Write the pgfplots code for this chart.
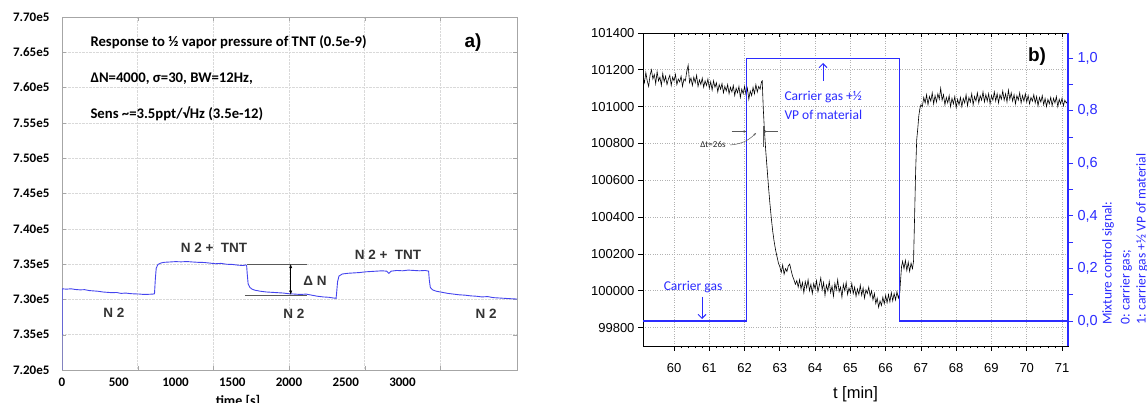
\documentclass[border=0pt]{standalone}
\usepackage{fontspec}
\setmainfont{Carlito}
\newfontfamily\arial{Liberation Sans}
\usepackage{pgfplots}
\pgfplotsset{compat=1.18}
\usetikzlibrary{arrows.meta}
\definecolor{lblue}{HTML}{4444EE}
\definecolor{bblue}{HTML}{2B2BFF}
\definecolor{lbl}{HTML}{333333}
\newcommand{\fs}[1]{\fontsize{#1}{#1}\selectfont}

\begin{document}
\begin{tikzpicture}[x=1pt,y=1pt]
\path[use as bounding box] (0pt,0pt) rectangle (1147pt,403pt);

% ---------- panel a ----------
\begin{axis}[
  at={(62pt,33pt)}, anchor=south west, scale only axis,
  width=455pt, height=353pt,
  xmin=0, xmax=4009, ymin=720000, ymax=770000,
  xtick={666.7,1333.3,2000,2666.7,3333.3}, xticklabels={},
  extra x ticks={0,500,1000,1500,2000,2500,3000},
  extra x tick style={major tick length=0pt, grid=none},
  ytick={720000,725000,...,770000},
  yticklabels={7.20e5,7.35e5,7.30e5,7.35e5,7.40e5,7.45e5,7.50e5,7.55e5,7.60e5,7.65e5,7.70e5},
  tick align=inside, major tick length=4pt,
  grid=major, grid style={gray!30, densely dotted},
  axis line style={gray!70}, tick style={gray!70},
  ticklabel style={font=\bfseries\fs{13}},
  yticklabel style={xshift=-9pt},
  xticklabel style={yshift=-4pt},
  scaled x ticks=false, scaled y ticks=false,
  /pgf/number format/fixed, /pgf/number format/precision=0,
  /pgf/number format/assume math mode=true,
  /pgf/number format/set thousands separator={},
]
\addplot[lblue, line width=0.9pt] coordinates {
(0,720000)(1,731500)(40,731450)(80,731500)(120,731400)(160,731350)(200,731380)
(240,731250)(280,731200)(320,731150)(360,731050)(400,731000)(440,730950)(480,730980)
(520,730850)(560,730900)(600,730820)(640,730780)(680,730760)(720,730700)(760,730720)
(800,730750)(815,730800)
(822,732800)(830,734400)(845,734950)(870,735150)(900,735250)(950,735300)(1000,735350)
(1050,735320)(1100,735360)(1150,735300)(1200,735250)(1250,735230)(1300,735150)
(1350,735050)(1400,735100)(1450,734980)(1500,734950)(1550,734850)(1600,734800)
(1620,734900)(1627,734750)
(1632,733600)(1640,732200)(1655,731700)(1675,731450)(1700,731300)(1750,731150)
(1800,731050)(1850,731000)(1900,730950)(1950,730900)(2000,730800)(2050,730750)
(2100,730700)(2150,730750)(2200,730600)(2250,730450)(2300,730350)(2350,730300)
(2390,730200)(2415,730150)
(2420,731000)(2428,732500)(2440,733300)(2470,733600)(2520,733700)(2570,733750)
(2620,733800)(2670,733900)(2720,733950)(2770,734000)(2820,734050)(2860,734000)
(2880,733700)(2900,734000)(2950,734100)(3000,734050)(3050,734150)(3100,734100)
(3150,734050)(3200,734100)(3230,734000)
(3236,732800)(3245,731700)(3265,731350)(3300,731150)(3350,731000)(3400,730850)
(3450,730750)(3500,730650)(3550,730600)(3600,730500)(3650,730450)(3700,730350)
(3750,730400)(3800,730250)(3850,730200)(3900,730150)(3950,730100)(4009,730050)
};
\draw[gray!70!black, thin] (axis cs:1630,735000) -- (axis cs:2159,735000);
\draw[gray!70!black, thin] (axis cs:1612,730665) -- (axis cs:2159,730665);
\draw[black, thin, {Latex[length=4pt,width=3pt]}-{Latex[length=4pt,width=3pt]}]
  (axis cs:2015,735000) -- (axis cs:2015,730665);
\node[font=\arial\bfseries\fs{13.5}, text=lbl] at (axis cs:2229,732590) {Δ N};
\node[font=\arial\bfseries\fs{13.5}, text=lbl] at (axis cs:458,728160) {N 2};
\node[font=\arial\bfseries\fs{13.5}, text=lbl] at (axis cs:1339,737360) {N 2 +\ \ TNT};
\node[font=\arial\bfseries\fs{13.5}, text=lbl] at (axis cs:2044,728020) {N 2};
\node[font=\arial\bfseries\fs{13.5}, text=lbl] at (axis cs:2872,736370) {N 2 +\ \ TNT};
\node[font=\arial\bfseries\fs{13.5}, text=lbl] at (axis cs:3736,728020) {N 2};
\end{axis}

\node[anchor=west, font=\bfseries\fs{14.7}] at (87pt,361pt) {Response to ½ vapor pressure of TNT (0.5e-9)};
\node[anchor=west, font=\bfseries\fs{14.7}] at (87pt,324pt) {ΔN=4000, σ=30, BW=12Hz,};
\node[anchor=west, font=\bfseries\fs{14.7}] at (87pt,289pt) {Sens \textasciitilde=3.5ppt/√Hz (3.5e-12)};
\node[font=\arial\bfseries\fs{19}] at (473pt,360pt) {a)};
\node[font=\bfseries\fs{14}] at (238pt,2pt) {time [s]};

% ---------- panel b ----------
\begin{axis}[
  at={(643pt,57pt)}, anchor=south west, scale only axis,
  width=425pt, height=313pt,
  xmin=59.12, xmax=71.17, ymin=99700, ymax=101400,
  xtick={60,61,...,71}, minor x tick num=4,
  ytick={99800,100000,...,101400}, minor y tick num=1,
  xtick pos=bottom, ytick pos=left,
  tick align=outside, major tick length=5pt, minor tick length=2.5pt,
  grid=major, grid style={gray!60, dotted, line width=0.7pt},
  axis line style={black, line width=0.8pt},
  tick style={black, line width=0.8pt},
  ticklabel style={font=\arial\fs{13}},
  xticklabel style={yshift=-9pt},
  scaled x ticks=false, scaled y ticks=false,
  /pgf/number format/fixed, /pgf/number format/precision=0,
  /pgf/number format/assume math mode=true,
  /pgf/number format/set thousands separator={},
  xlabel={t [min]}, xlabel style={font=\arial\fs{16.5}, yshift=-7pt},
]
\addplot[black, line width=0.6pt] coordinates {
(59.12,101160)(59.16,101130)(59.20,101185)(59.24,101140)(59.28,101110)(59.32,101170)
(59.36,101200)(59.40,101150)(59.44,101175)(59.48,101125)(59.52,101190)(59.56,101140)
(59.60,101160)(59.64,101115)(59.68,101180)(59.72,101135)(59.76,101165)(59.80,101120)
(59.84,101150)(59.88,101170)(59.92,101115)(59.96,101160)(60.00,101140)(60.04,101175)
(60.08,101120)(60.12,101150)(60.16,101135)(60.20,101165)(60.24,101110)(60.28,101150)
(60.32,101140)(60.36,101190)(60.40,101225)(60.44,101130)(60.48,101155)(60.52,101115)
(60.56,101160)(60.60,101130)(60.64,101170)(60.68,101110)(60.72,101145)(60.76,101120)
(60.80,101155)(60.84,101105)(60.88,101140)(60.92,101115)(60.96,101150)(61.00,101100)
(61.04,101135)(61.08,101090)(61.12,101140)(61.16,101105)(61.20,101130)(61.24,101080)
(61.28,101120)(61.32,101095)(61.36,101125)(61.40,101075)(61.44,101110)(61.48,101085)
(61.52,101120)(61.56,101070)(61.60,101105)(61.64,101080)(61.68,101115)(61.72,101060)
(61.76,101100)(61.80,101075)(61.84,101110)(61.88,101050)(61.92,101095)(61.96,101070)
(62.00,101110)(62.04,101065)(62.08,101100)(62.12,101040)(62.16,101085)(62.20,101060)
(62.24,101105)(62.28,101070)(62.32,101120)(62.36,101080)(62.40,101110)(62.44,101095)
(62.48,101135)(62.50,101140)
(62.53,100990)(62.56,100880)(62.60,100760)(62.64,100660)(62.68,100560)(62.72,100470)
(62.76,100390)(62.80,100320)(62.84,100265)(62.88,100220)(62.92,100185)(62.96,100150)
(63.00,100130)(63.04,100100)(63.08,100140)(63.12,100090)(63.16,100120)(63.20,100105)
(63.24,100135)(63.28,100145)(63.32,100110)(63.36,100080)(63.40,100060)(63.44,100035)
(63.48,100055)
(63.52,100020)(63.56,100060)(63.60,100010)(63.64,100045)(63.68,99990)(63.72,100050)
(63.76,100015)(63.80,100060)(63.84,100000)(63.88,100035)(63.92,99985)(63.96,100040)
(64.00,100010)(64.04,100055)(64.08,99995)(64.12,100030)(64.16,100070)(64.20,100005)
(64.24,100045)(64.28,99975)(64.32,100030)(64.36,100000)(64.40,100050)(64.44,99990)
(64.48,100025)(64.52,99970)(64.56,100040)(64.60,100005)(64.64,100060)(64.68,99995)
(64.72,100020)(64.76,99965)(64.80,100035)(64.84,100000)(64.88,100045)(64.92,99980)
(64.96,100015)(65.00,99990)(65.04,100040)(65.08,99985)(65.12,100020)(65.16,99970)
(65.20,100010)(65.24,99980)(65.28,100030)(65.32,99975)(65.36,100015)(65.40,99960)
(65.44,100005)(65.48,99985)(65.52,100020)(65.56,99970)(65.60,100000)(65.64,99950)
(65.68,99985)(65.72,99930)(65.76,99960)(65.80,99910)(65.84,99945)(65.88,99920)
(65.92,99965)(65.96,99930)(66.00,99975)(66.04,99935)(66.08,99980)(66.12,99940)
(66.16,99990)(66.20,99945)(66.24,99985)(66.28,99950)(66.32,99995)(66.36,99960)
(66.40,99990)
(66.42,100050)(66.45,100130)(66.48,100160)(66.52,100120)(66.56,100165)(66.60,100110)
(66.64,100155)(66.68,100105)(66.72,100150)(66.76,100120)(66.79,100160)
(66.82,100400)(66.85,100650)(66.88,100820)(66.91,100880)(66.94,100950)(66.97,100990)
(67.00,101010)
(67.04,101000)(67.08,101050)(67.12,101020)(67.16,101065)(67.20,101010)(67.24,101055)
(67.28,101030)(67.32,101075)(67.36,101015)(67.40,101060)(67.44,101025)(67.48,101070)
(67.52,101040)(67.56,101100)(67.60,101035)(67.64,101065)(67.68,101010)(67.72,101050)
(67.76,101020)(67.80,101060)(67.84,101000)(67.88,101045)(67.92,101015)(67.96,101055)
(68.00,100995)(68.04,101040)(68.08,101010)(68.12,101050)(68.16,101000)(68.20,101045)
(68.24,101020)(68.28,101065)(68.32,101005)(68.36,101050)(68.40,101025)(68.44,101070)
(68.48,101010)(68.52,101055)(68.56,101030)(68.60,101075)(68.64,101020)(68.68,101060)
(68.72,101035)(68.76,101080)(68.80,101025)(68.84,101065)(68.88,101030)(68.92,101070)
(68.96,101015)(69.00,101060)(69.04,101035)(69.08,101080)(69.12,101030)(69.16,101070)
(69.20,101020)(69.24,101065)(69.28,101040)(69.32,101085)(69.36,101035)(69.40,101070)
(69.44,101025)(69.48,101090)(69.52,101040)(69.56,101075)(69.60,101030)(69.64,101065)
(69.68,101015)(69.72,101060)(69.76,101035)(69.80,101075)(69.84,101020)(69.88,101060)
(69.92,101030)(69.96,101070)(70.00,101025)(70.04,101060)(70.08,101015)(70.12,101050)
(70.16,101030)(70.20,101065)(70.24,101020)(70.28,101055)(70.32,101005)(70.36,101050)
(70.40,101025)(70.44,101060)(70.48,101010)(70.52,101045)(70.56,101000)(70.60,101040)
(70.64,101015)(70.68,101050)(70.72,101005)(70.76,101045)(70.80,101020)(70.84,101055)
(70.88,101000)(70.92,101040)(70.96,101015)(71.00,101045)(71.04,101005)(71.08,101035)
(71.12,101020)(71.16,101030)
};
\end{axis}

% top ticks of panel b
\begin{axis}[
  at={(643pt,57pt)}, anchor=south west, scale only axis,
  width=425pt, height=313pt,
  xmin=59.12, xmax=71.17, ymin=0, ymax=1,
  axis x line*=top, axis y line=none,
  xtick={60,61,...,71}, minor x tick num=4, xticklabels={},
  tick align=inside, major tick length=4pt, minor tick length=2.5pt,
  axis line style={black, line width=0.8pt, -},
  tick style={black, line width=0.8pt},
]
\end{axis}

% blue control signal axis
\begin{axis}[
  at={(643pt,57pt)}, anchor=south west, scale only axis,
  width=425pt, height=313pt,
  xmin=59.12, xmax=71.17, ymin=-0.095, ymax=1.096,
  axis y line*=right, axis x line=none,
  ytick={0,0.2,0.4,0.6,0.8,1}, minor y tick num=1,
  tick align=outside, major tick length=5pt, minor tick length=5pt,
  axis line style={bblue, line width=1.2pt, -},
  tick style={bblue, line width=1pt},
  yticklabel style={text=bblue, font=\arial\fs{14.5}, xshift=1pt},
  /pgf/number format/.cd, use comma, fixed, fixed zerofill, precision=1,
  assume math mode=true,
]
\addplot[bblue, line width=1.3pt] coordinates {
(59.12,0)(62.05,0)(62.05,1)(66.40,1)(66.40,0)(71.17,0)
};
\end{axis}

\node[font=\arial\bfseries\fs{19}] at (1037pt,346pt) {b)};
\node[anchor=west, text=bblue, font=\fs{13.5}] at (781pt,306pt) {Carrier gas +½};
\node[anchor=west, text=bblue, font=\fs{13.5}] at (781pt,288pt) {VP of material};
\draw[bblue, line width=0.9pt, -{Straight Barb[length=4pt]}] (823pt,322pt) -- (823pt,340pt);
\node[text=bblue, font=\fs{13.5}] at (693pt,116pt) {Carrier gas};
\draw[bblue, line width=0.9pt, -{Straight Barb[length=4pt]}] (702pt,106pt) -- (702pt,84pt);
\draw[gray!70!black, line width=0.5pt, -{Stealth[length=3pt]}] (731.5pt,271.5pt) -- (746.5pt,271.5pt);
\draw[gray!70!black, line width=0.5pt, -{Stealth[length=3pt]}] (777.5pt,271.5pt) -- (763pt,271.5pt);
\draw[gray!70!black, line width=0.5pt] (763pt,277pt) -- (763pt,256pt);
\node[text=gray!30!black, font=\fs{9}] at (713pt,258pt) {Δt=26s};
\draw[gray!70!black, line width=0.5pt, -{Stealth[length=3pt]}] (730pt,258pt) to[bend right=20] (756pt,270pt);

\node[rotate=90, anchor=west, text=bblue, font=\fs{13.5}, inner sep=0pt] at (1108pt,78pt) {Mixture control signal:};
\node[rotate=90, anchor=west, text=bblue, font=\fs{13.5}, inner sep=0pt] at (1126pt,78pt) {0: carrier gas;};
\node[rotate=90, anchor=west, text=bblue, font=\fs{13.5}, inner sep=0pt] at (1142pt,78pt) {1: carrier gas +½ VP of material};
\end{tikzpicture}
\end{document}
